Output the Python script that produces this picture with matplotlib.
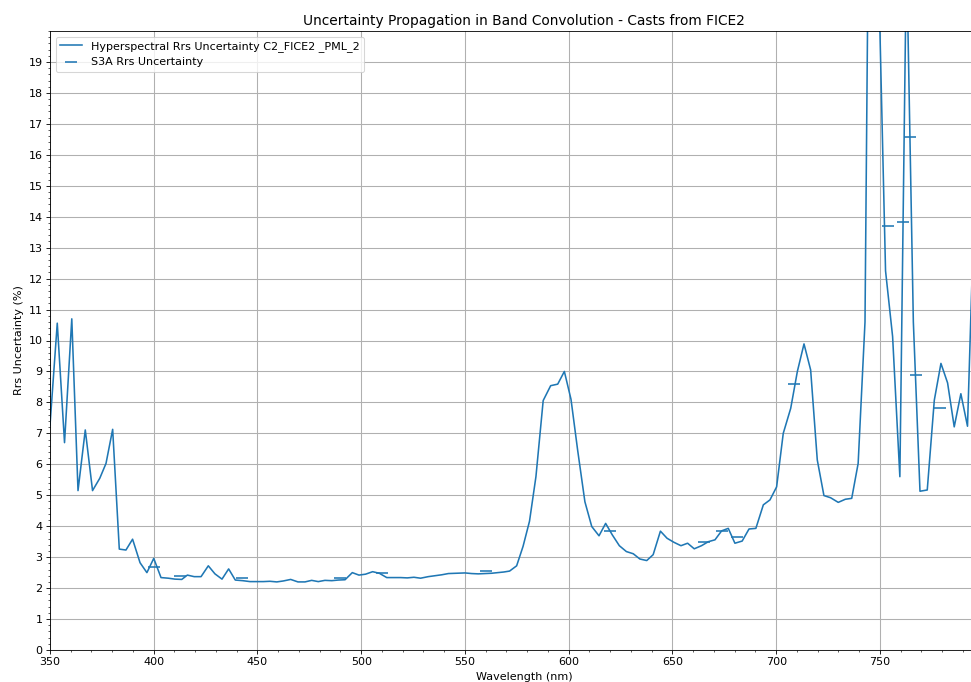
import matplotlib
matplotlib.use("Agg")
import matplotlib.pyplot as plt
from matplotlib.ticker import MultipleLocator

wavelength = [350.0, 353.5, 357.0, 360.5, 363.5, 367.0, 370.5, 374.0, 377.0, 380.2,
              383.4, 386.6, 389.8, 393.4, 396.7, 400.0, 403.5, 407.0, 410.2, 413.5,
              416.2, 419.5, 422.8, 426.3, 429.5, 432.9, 436.1, 439.3, 442.9, 446.4,
              449.6, 452.8, 456.0, 459.3, 462.4, 466.0, 469.5, 472.9, 476.1, 479.3,
              482.5, 485.8, 488.9, 492.2, 495.7, 498.9, 502.1, 505.5, 508.7, 512.3,
              515.8, 519.0, 522.2, 525.4, 528.6, 532.3, 535.5, 538.8, 542.0, 546.0,
              550.0, 553.2, 556.4, 559.6, 562.9, 566.0, 568.7, 571.5, 574.9, 578.0,
              581.1, 584.2, 587.7, 591.3, 594.7, 597.9, 601.1, 604.3, 607.8, 611.1,
              614.6, 617.8, 621.0, 624.4, 627.8, 631.1, 634.3, 637.6, 640.7, 644.2,
              647.4, 650.7, 654.1, 657.3, 660.5, 664.0, 667.3, 670.5, 673.7, 676.9,
              680.1, 683.6, 686.9, 690.2, 693.8, 697.0, 700.2, 703.4, 707.0, 710.2,
              713.4, 716.6, 719.8, 723.0, 726.2, 729.9, 733.3, 736.4, 739.5, 742.8,
              746.1, 749.4, 752.7, 756.1, 759.6, 762.8, 766.1, 769.3, 772.8, 776.2,
              779.4, 782.6, 785.8, 789.0, 792.2, 795.5]

hyper_unc = [7.27, 10.56, 6.70, 10.70, 5.15, 7.11, 5.15, 5.55, 6.03, 7.13,
             3.26, 3.23, 3.58, 2.82, 2.50, 2.96, 2.34, 2.32, 2.29, 2.28,
             2.42, 2.37, 2.37, 2.72, 2.46, 2.29, 2.62, 2.26, 2.24, 2.21,
             2.21, 2.21, 2.22, 2.20, 2.23, 2.28, 2.20, 2.20, 2.25, 2.21,
             2.25, 2.24, 2.26, 2.27, 2.50, 2.42, 2.45, 2.53, 2.48, 2.34,
             2.34, 2.34, 2.33, 2.35, 2.32, 2.37, 2.40, 2.43, 2.47, 2.48,
             2.49, 2.47, 2.46, 2.47, 2.48, 2.50, 2.52, 2.55, 2.72, 3.35,
             4.16, 5.60, 8.06, 8.54, 8.59, 9.00, 8.10, 6.46, 4.79, 3.99,
             3.69, 4.09, 3.72, 3.37, 3.18, 3.11, 2.94, 2.89, 3.08, 3.84,
             3.61, 3.48, 3.37, 3.45, 3.27, 3.37, 3.50, 3.56, 3.85, 3.93,
             3.45, 3.52, 3.91, 3.93, 4.69, 4.85, 5.27, 7.00, 7.81, 9.00,
             9.89, 9.05, 6.14, 4.99, 4.92, 4.77, 4.87, 4.90, 6.03, 10.60,
             36.4, 21.7, 12.25, 10.13, 5.60, 22.6, 10.60, 5.13, 5.17, 8.07,
             9.26, 8.63, 7.21, 8.28, 7.23, 14.5]

s3a_bands = [400.0, 412.5, 442.5, 490.0, 510.0, 560.0, 620.0, 665.0, 673.75, 681.25,
             708.75, 753.75, 761.25, 764.375, 767.5, 778.75]
s3a_unc = [2.69, 2.40, 2.34, 2.34, 2.50, 2.55, 3.85, 3.48, 3.85, 3.66,
           8.61, 13.69, 13.83, 16.57, 8.87, 7.81]

x_ticks = [350, 400, 450, 500, 550, 600, 650, 700, 750]
y_ticks = list(range(0, 20))

plt.rcParams["font.size"] = 10.5

W, H = 971, 682
DPI = 76
fig = plt.figure(figsize=(W / DPI, H / DPI), dpi=DPI)
ax = fig.add_axes([50 / W, 32 / H, 948 / W, 619 / H])

color = "#1f77b4"
ax.plot(wavelength, hyper_unc, color=color, lw=1.5,
        label="Hyperspectral Rrs Uncertainty C2_FICE2 _PML_2")
ax.plot(s3a_bands, s3a_unc, linestyle="none", marker="_", markersize=10.5,
        markeredgewidth=1.5, color=color, label="S3A Rrs Uncertainty")

ax.set_xlim(350, 806.9)
ax.set_ylim(0, 20)
ax.set_xticks(x_ticks)
ax.xaxis.set_minor_locator(MultipleLocator(10))
ax.set_yticks(y_ticks)
ax.yaxis.set_minor_locator(MultipleLocator(0.2))
ax.grid(True, which="major", color="#b0b0b0", linewidth=1.0)
ax.set_axisbelow(True)

ax.set_title("Uncertainty Propagation in Band Convolution - Casts from FICE2", fontsize=13)
ax.set_xlabel("Wavelength (nm)")
ax.set_ylabel("Rrs Uncertainty (%)")
ax.legend(loc="upper left")

fig.savefig("out.png", dpi=DPI)
